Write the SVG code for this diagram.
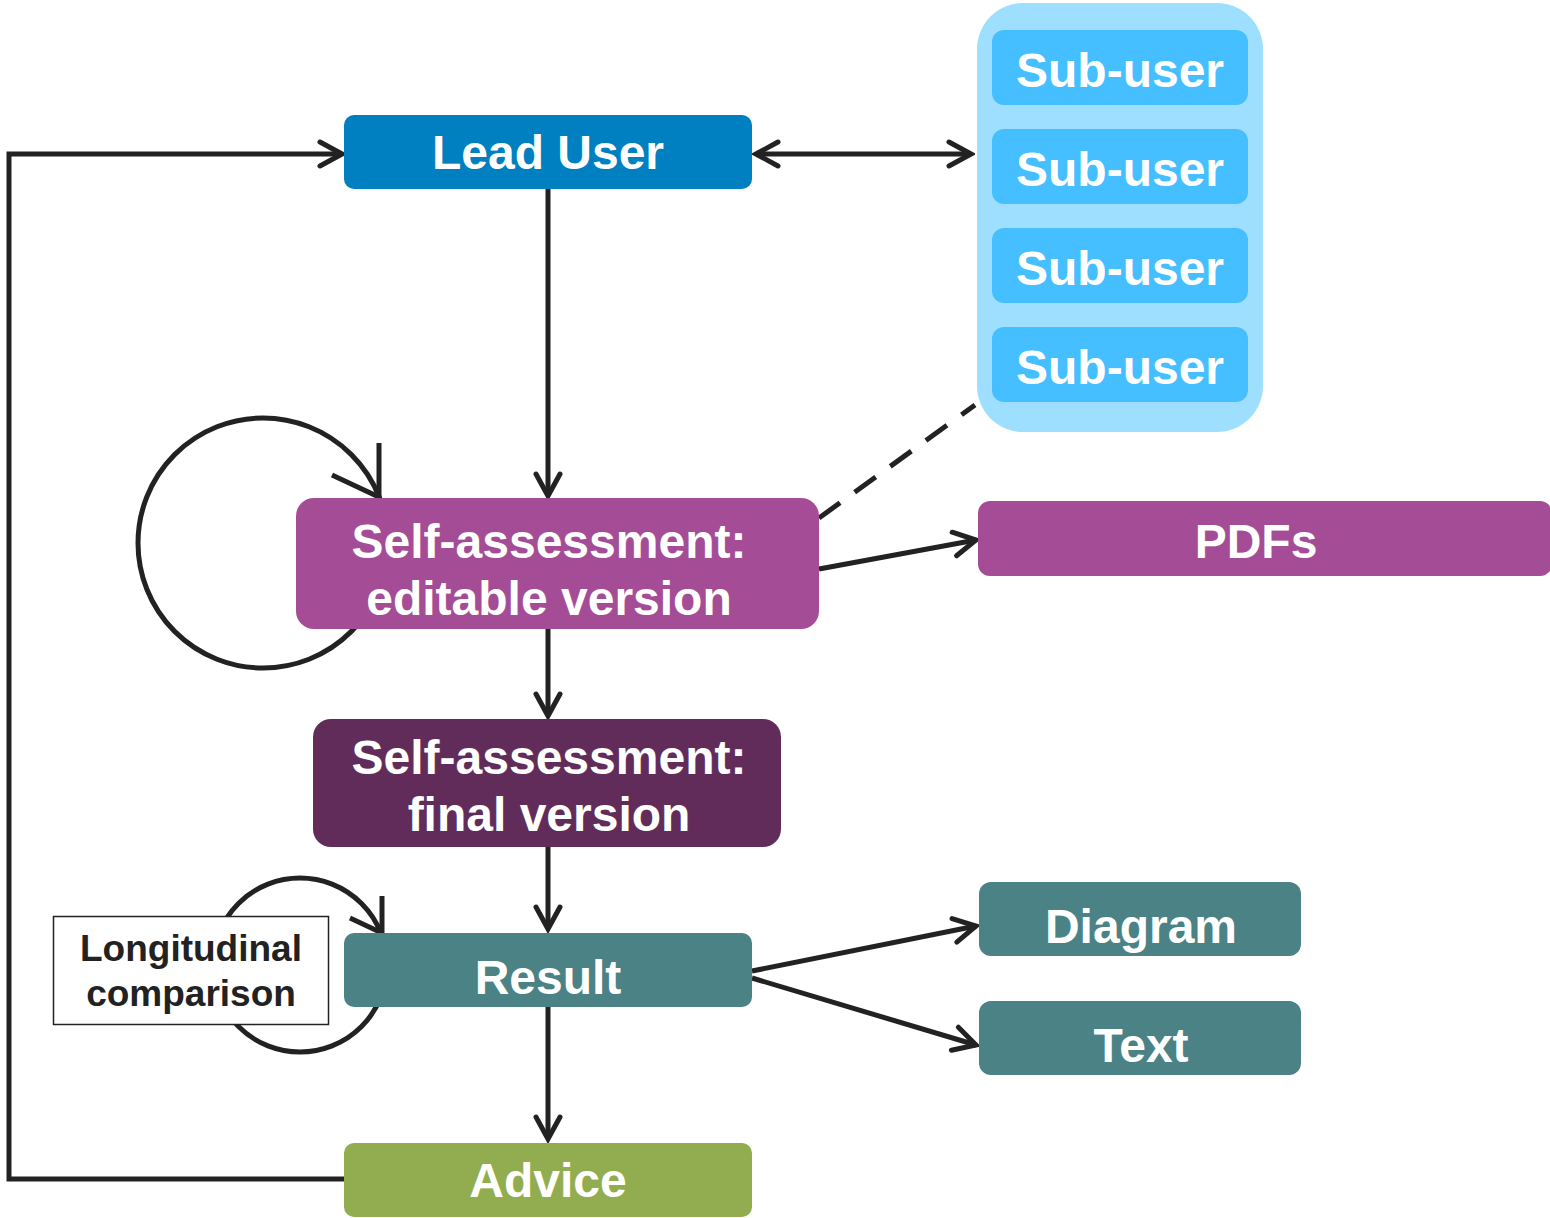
<svg xmlns="http://www.w3.org/2000/svg" width="1550" height="1218" viewBox="0 0 1550 1218">
<style>
.t{font-family:"Liberation Sans",Arial,sans-serif;font-weight:bold;fill:#fff;text-anchor:middle;font-size:48px}
.d{font-family:"Liberation Sans",Arial,sans-serif;font-weight:bold;fill:#222;text-anchor:middle;font-size:37px}
.c{fill:none;stroke:#222;stroke-width:5}
</style>
<defs>
<marker id="ah" viewBox="-28 -16 32 32" markerWidth="32" markerHeight="32" refX="0" refY="0" markerUnits="userSpaceOnUse" orient="auto-start-reverse">
<path d="M-22,-12 L0,0 L-22,12" fill="none" stroke="#222" stroke-width="5" stroke-linecap="round" stroke-linejoin="miter"/>
</marker>
</defs>
<rect width="1550" height="1218" fill="#fff"/>
<g id="loops">
<circle class="c" cx="263" cy="543" r="125"/>
<polyline class="c" points="332,475 379,497 379,443"/>
<circle class="c" cx="300" cy="965" r="87"/>
<polyline class="c" points="350,918 382,933 382,896"/>
</g>
<g id="connectors" class="c">
<polyline points="344,1179 9,1179 9,154 342,154" marker-end="url(#ah)"/>
<line x1="756" y1="154" x2="971" y2="154" marker-start="url(#ah)" marker-end="url(#ah)"/>
<line x1="548" y1="189" x2="548" y2="496" marker-end="url(#ah)"/>
<line x1="819" y1="518" x2="975" y2="405" stroke-dasharray="26,18"/>
<line x1="819" y1="569" x2="976" y2="540" marker-end="url(#ah)"/>
<line x1="548" y1="629" x2="548" y2="716" marker-end="url(#ah)"/>
<line x1="548" y1="847" x2="548" y2="929" marker-end="url(#ah)"/>
<line x1="752" y1="971" x2="976" y2="926" marker-end="url(#ah)"/>
<line x1="752" y1="978" x2="976" y2="1045" marker-end="url(#ah)"/>
<line x1="548" y1="1007" x2="548" y2="1139" marker-end="url(#ah)"/>
</g>
<g id="lead"><rect x="344" y="115" width="408" height="74" rx="10" fill="#0080C0"/><text class="t" x="548" y="169">Lead User</text></g>
<g id="subusers">
<rect x="977" y="3" width="286" height="429" rx="46" fill="#9EDFFF"/>
<rect x="992" y="30" width="256" height="75" rx="12" fill="#45BFFF"/><text class="t" x="1120" y="87">Sub-user</text>
<rect x="992" y="129" width="256" height="75" rx="12" fill="#45BFFF"/><text class="t" x="1120" y="186">Sub-user</text>
<rect x="992" y="228" width="256" height="75" rx="12" fill="#45BFFF"/><text class="t" x="1120" y="285">Sub-user</text>
<rect x="992" y="327" width="256" height="75" rx="12" fill="#45BFFF"/><text class="t" x="1120" y="384">Sub-user</text>
</g>
<g id="editable"><rect x="296" y="498" width="523" height="131" rx="18" fill="#A44C96"/><text class="t" x="549" y="558">Self-assessment:</text><text class="t" x="549" y="615">editable version</text></g>
<g id="pdfs"><rect x="978" y="501" width="574" height="75" rx="12" fill="#A44C96"/><text class="t" x="1256" y="558">PDFs</text></g>
<g id="final"><rect x="313" y="719" width="468" height="128" rx="18" fill="#622C5A"/><text class="t" x="549" y="774">Self-assessment:</text><text class="t" x="549" y="831">final version</text></g>
<g id="longitudinal"><rect x="53.5" y="916.5" width="275" height="108" fill="#fff" stroke="#222" stroke-width="1.5"/><text class="d" x="191" y="961">Longitudinal</text><text class="d" x="191" y="1006">comparison</text></g>
<g id="result"><rect x="344" y="933" width="408" height="74" rx="10" fill="#4A8285"/><text class="t" x="548" y="994">Result</text></g>
<g id="diagram"><rect x="979" y="882" width="322" height="74" rx="12" fill="#4A8285"/><text class="t" x="1141" y="943">Diagram</text></g>
<g id="text"><rect x="979" y="1001" width="322" height="74" rx="12" fill="#4A8285"/><text class="t" x="1141" y="1062">Text</text></g>
<g id="advice"><rect x="344" y="1143" width="408" height="74" rx="10" fill="#92AD50"/><text class="t" x="548" y="1197">Advice</text></g>
</svg>
